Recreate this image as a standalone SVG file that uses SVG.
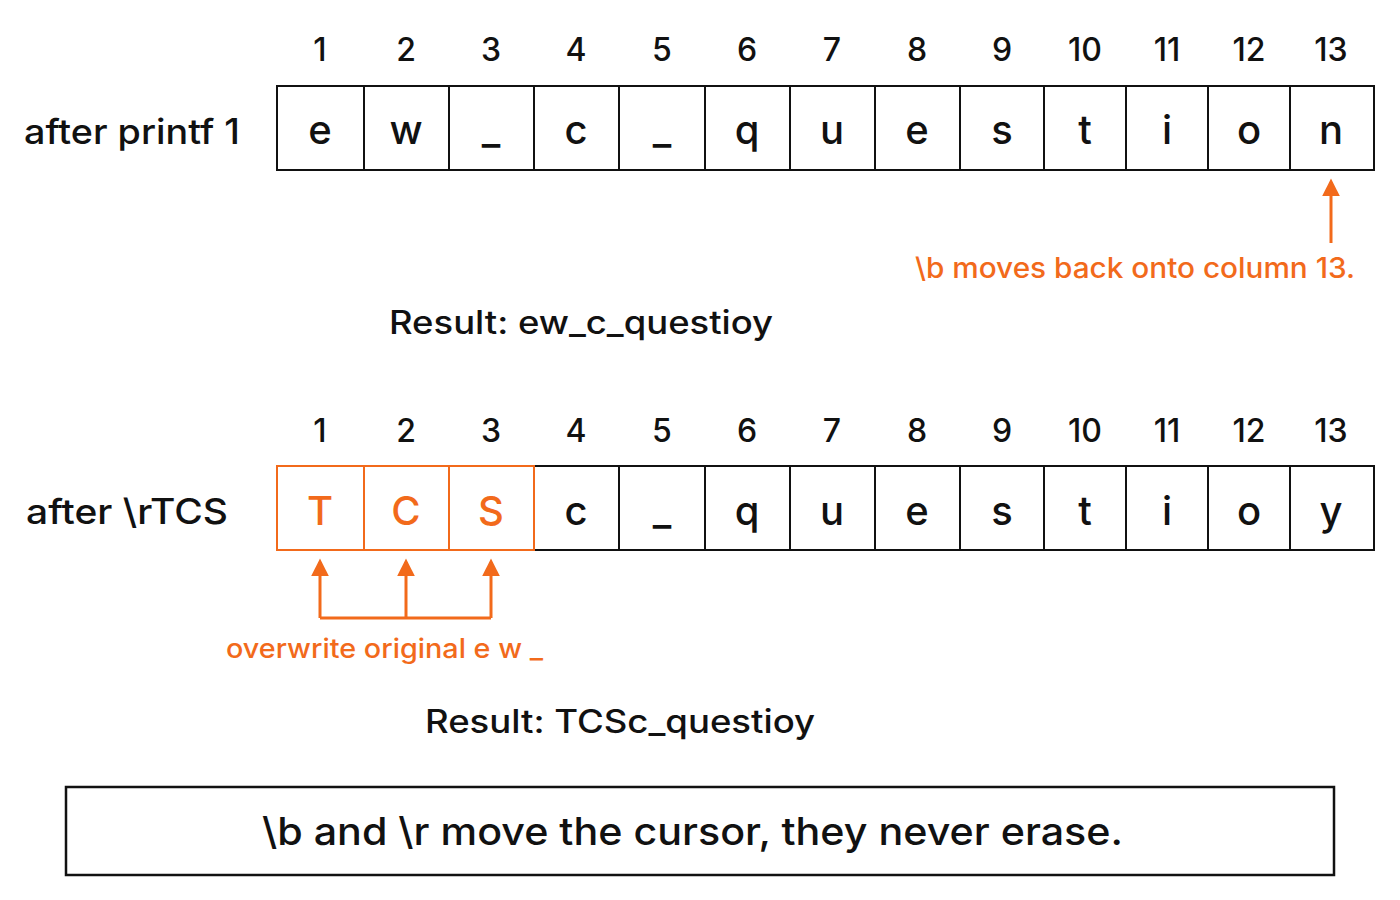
<svg xmlns="http://www.w3.org/2000/svg" width="1400" height="900" viewBox="0 0 1400 900">
<style>
text{font-family:Inter,"Liberation Sans",Arial,sans-serif;fill:#111;font-weight:500}
.c{fill:#fff;stroke:#111;stroke-width:2}
.co{fill:#fff;stroke:#f26a1b;stroke-width:2}
.l{font-size:40px;text-anchor:middle}
.n{font-size:32px;text-anchor:middle}
.lab{font-size:35px}
.or{fill:#f26a1b}
.ar{stroke:#f26a1b;stroke-width:3;fill:none}
</style>
<defs><marker id="ah" viewBox="0 0 10 10" refX="8" refY="5" markerWidth="6" markerHeight="6" orient="auto"><path d="M0,0L10,5L0,10z" fill="#f26a1b"/></marker></defs>
<rect width="1400" height="900" fill="#fff"/>
<g id="row1">
<text class="lab" x="24" y="144" textLength="216" lengthAdjust="spacingAndGlyphs">after printf 1</text>
<text class="n" x="320" y="61">1</text><text class="n" x="406" y="61">2</text><text class="n" x="491" y="61">3</text><text class="n" x="576" y="61">4</text><text class="n" x="662" y="61">5</text><text class="n" x="747" y="61">6</text><text class="n" x="832" y="61">7</text><text class="n" x="917" y="61">8</text><text class="n" x="1002" y="61">9</text><text class="n" x="1085" y="61">10</text><text class="n" x="1167" y="61">11</text><text class="n" x="1249" y="61">12</text><text class="n" x="1331" y="61">13</text>
<rect class="c" x="277" y="86" width="87" height="84"/><rect class="c" x="364" y="86" width="85" height="84"/><rect class="c" x="449" y="86" width="85" height="84"/><rect class="c" x="534" y="86" width="85" height="84"/><rect class="c" x="619" y="86" width="86" height="84"/><rect class="c" x="705" y="86" width="85" height="84"/><rect class="c" x="790" y="86" width="85" height="84"/><rect class="c" x="875" y="86" width="85" height="84"/><rect class="c" x="960" y="86" width="84" height="84"/><rect class="c" x="1044" y="86" width="82" height="84"/><rect class="c" x="1126" y="86" width="82" height="84"/><rect class="c" x="1208" y="86" width="82" height="84"/><rect class="c" x="1290" y="86" width="84" height="84"/>
<text class="l" x="320" y="144">e</text><text class="l" x="406" y="144">w</text><text class="l" x="491" y="144">_</text><text class="l" x="576" y="144">c</text><text class="l" x="662" y="144">_</text><text class="l" x="747" y="144">q</text><text class="l" x="832" y="144">u</text><text class="l" x="917" y="144">e</text><text class="l" x="1002" y="144">s</text><text class="l" x="1085" y="144">t</text><text class="l" x="1167" y="144">i</text><text class="l" x="1249" y="144">o</text><text class="l" x="1331" y="144">n</text>
<text x="915" y="278" font-size="28" class="or" textLength="440" lengthAdjust="spacingAndGlyphs">\b moves back onto column 13.</text>
<text x="389" y="334" font-size="32" textLength="384" lengthAdjust="spacingAndGlyphs">Result:  ew_c_questioy</text>
</g>
<g id="row2">
<text class="lab" x="26" y="524" textLength="202" lengthAdjust="spacingAndGlyphs">after \rTCS</text>
<text class="n" x="320" y="442">1</text><text class="n" x="406" y="442">2</text><text class="n" x="491" y="442">3</text><text class="n" x="576" y="442">4</text><text class="n" x="662" y="442">5</text><text class="n" x="747" y="442">6</text><text class="n" x="832" y="442">7</text><text class="n" x="917" y="442">8</text><text class="n" x="1002" y="442">9</text><text class="n" x="1085" y="442">10</text><text class="n" x="1167" y="442">11</text><text class="n" x="1249" y="442">12</text><text class="n" x="1331" y="442">13</text>
<rect class="c" x="534" y="466" width="85" height="84"/><rect class="c" x="619" y="466" width="86" height="84"/><rect class="c" x="705" y="466" width="85" height="84"/><rect class="c" x="790" y="466" width="85" height="84"/><rect class="c" x="875" y="466" width="85" height="84"/><rect class="c" x="960" y="466" width="84" height="84"/><rect class="c" x="1044" y="466" width="82" height="84"/><rect class="c" x="1126" y="466" width="82" height="84"/><rect class="c" x="1208" y="466" width="82" height="84"/><rect class="c" x="1290" y="466" width="84" height="84"/>
<rect class="co" x="277" y="466" width="87" height="84"/><rect class="co" x="364" y="466" width="85" height="84"/><rect class="co" x="449" y="466" width="85" height="84"/>
<text class="l or" x="320" y="525" font-weight="bold">T</text><text class="l or" x="406" y="525" font-weight="bold">C</text><text class="l or" x="491" y="525" font-weight="bold">S</text>
<text class="l" x="576" y="525">c</text><text class="l" x="662" y="525">_</text><text class="l" x="747" y="525">q</text><text class="l" x="832" y="525">u</text><text class="l" x="917" y="525">e</text><text class="l" x="1002" y="525">s</text><text class="l" x="1085" y="525">t</text><text class="l" x="1167" y="525">i</text><text class="l" x="1249" y="525">o</text><text class="l" x="1331" y="525">y</text>
<text x="226" y="658" font-size="27" class="or" textLength="317" lengthAdjust="spacingAndGlyphs">overwrite original e  w  _</text>
<text x="425" y="733" font-size="32" textLength="390" lengthAdjust="spacingAndGlyphs">Result:  TCSc_questioy</text>
</g>
<g id="connectors">
<line class="ar" x1="1331" y1="243" x2="1331" y2="182" marker-end="url(#ah)"/>
<path class="ar" d="M320,618H491"/>
<line class="ar" x1="320" y1="618" x2="320" y2="562" marker-end="url(#ah)"/>
<line class="ar" x1="406" y1="618" x2="406" y2="562" marker-end="url(#ah)"/>
<line class="ar" x1="491" y1="618" x2="491" y2="562" marker-end="url(#ah)"/>
</g>
<g id="note">
<rect x="66" y="787" width="1268" height="88" fill="#fff" stroke="#111" stroke-width="2.5"/>
<text x="262" y="845" font-size="38" textLength="861" lengthAdjust="spacingAndGlyphs">\b and \r move the cursor, they never erase.</text>
</g>
</svg>
